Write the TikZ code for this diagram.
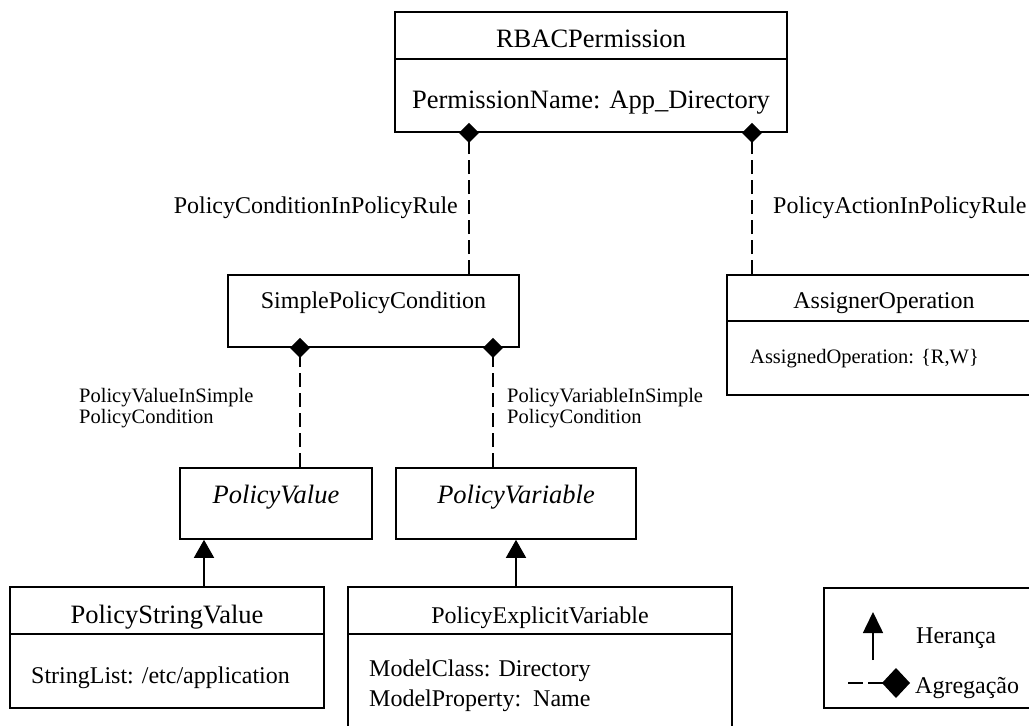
\documentclass[tikz,border=0pt]{standalone}
\usepackage{fontspec}
\setmainfont{Liberation Serif}
\usetikzlibrary{arrows.meta}
\begin{document}
\begin{tikzpicture}[x=1pt,y=-1pt,
  box/.style={draw, line width=1.6pt, inner sep=0pt},
  divider/.style={line width=1.6pt},
  bigtxt/.style={font=\fontsize{26.5}{30}\selectfont, inner sep=0pt},
  medtxt/.style={font=\fontsize{24}{29}\selectfont, inner sep=0pt},
  smalltxt/.style={font=\fontsize{20.5}{21}\selectfont, inner sep=0pt},
  abstxt/.style={font=\fontsize{26.5}{30}\selectfont\itshape, inner sep=0pt},
  agg/.style={line width=1.6pt, dash pattern=on 14pt off 6pt,
    -{Diamond[length=20pt,width=20pt]}, shorten >=-10pt},
  inh/.style={line width=1.6pt, -{Triangle[length=18pt,width=20pt]}}]
\useasboundingbox (0,0) rectangle (1029,726);
\fill[white] (0,0) rectangle (1029,726);
\clip (0,0) rectangle (1029,726);

% class boxes
\node[box, minimum width=392pt, minimum height=120pt] (rbac) at (591,72) {};
\draw[divider] ([yshift=-48pt]rbac.north west) -- ([yshift=-48pt]rbac.north east);
\node[box, minimum width=291pt, minimum height=72pt] (spc) at (373.5,311) {};
\node[box, minimum width=314pt, minimum height=120pt] (ao) at (884,335) {};
\draw[divider] ([yshift=-47pt]ao.north west) -- ([yshift=-47pt]ao.north east);
\node[box, minimum width=192pt, minimum height=71pt] (pv) at (276,503.5) {};
\node[box, minimum width=240pt, minimum height=71pt] (pvar) at (516,503.5) {};
\node[box, minimum width=314pt, minimum height=121pt] (psv) at (167,647.5) {};
\draw[divider] ([yshift=-48pt]psv.north west) -- ([yshift=-48pt]psv.north east);
\node[box, minimum width=384pt, minimum height=173pt] (pev) at (540,673.5) {};
\draw[divider] ([yshift=-48pt]pev.north west) -- ([yshift=-48pt]pev.north east);
\node[box, minimum width=216pt, minimum height=120pt] (legend) at (932,648) {};

% texts
\node[bigtxt, anchor=base] (trbac) at (591,47) {RBACPermission};
\node[bigtxt, anchor=base] (arbac) at (591,108) {PermissionName: App\_Directory};
\node[medtxt, anchor=base] (tspc) at (373.5,308) {SimplePolicyCondition};
\node[medtxt, anchor=base] (tao) at (884,308) {AssignerOperation};
\node[smalltxt, anchor=base west] (aao) at (750,363) {AssignedOperation: \{R,W\}};
\node[abstxt, anchor=base] (tpv) at (276,503) {PolicyValue};
\node[abstxt, anchor=base] (tpvar) at (516,503) {PolicyVariable};
\node[bigtxt, anchor=base] (tpsv) at (167,623) {PolicyStringValue};
\node[medtxt, anchor=base west] (apsv) at (31,683) {StringList: /etc/application};
\node[medtxt, anchor=base] (tpev) at (540,623) {PolicyExplicitVariable};
\node[medtxt, anchor=base west] (apev1) at (369,676) {ModelClass: Directory};
\node[medtxt, anchor=base west] (apev2) at (369,706) {ModelProperty:\ \ Name};

% association labels
\node[medtxt, anchor=base east] (lcond) at (458,213) {PolicyConditionInPolicyRule};
\node[medtxt, anchor=base west] (lact) at (773,213) {PolicyActionInPolicyRule};
\node[smalltxt, anchor=base west] (lval1) at (79,402) {PolicyValueInSimple};
\node[smalltxt, anchor=base west] (lval2) at (79,423) {PolicyCondition};
\node[smalltxt, anchor=base west] (lvar1) at (507,402) {PolicyVariableInSimple};
\node[smalltxt, anchor=base west] (lvar2) at (507,423) {PolicyCondition};

% connector columns
\coordinate (xa) at (469,0);
\coordinate (xb) at (752,0);
\coordinate (xc) at (300,0);
\coordinate (xd) at (493,0);
\coordinate (xe) at (204,0);
\coordinate (xf) at (516,0);

% aggregations
\draw[agg] (spc.north -| xa) -- (rbac.south -| xa);
\draw[agg] (ao.north -| xb) -- (rbac.south -| xb);
\draw[agg] (pv.north -| xc) -- (spc.south -| xc);
\draw[agg] (pvar.north -| xd) -- (spc.south -| xd);

% inheritance
\draw[inh] (psv.north -| xe) -- (pv.south -| xe);
\draw[inh] (pev.north -| xf) -- (pvar.south -| xf);

% legend
\coordinate (la) at (873,660);
\coordinate (lb) at (873,612);
\coordinate (lc) at (848,683);
\coordinate (ld) at (910,683);
\draw[line width=1.6pt, -{Triangle[length=21pt,width=20pt]}] (la) -- (lb);
\draw[line width=1.6pt, dash pattern=on 15pt off 5pt,
  -{Diamond[length=28pt,width=30pt]}] (lc) -- (ld);
\node[medtxt, anchor=base west] (lh) at (916,643) {Herança};
\node[medtxt, anchor=base west] (lg) at (915,693) {Agregação};
\end{tikzpicture}
\end{document}
